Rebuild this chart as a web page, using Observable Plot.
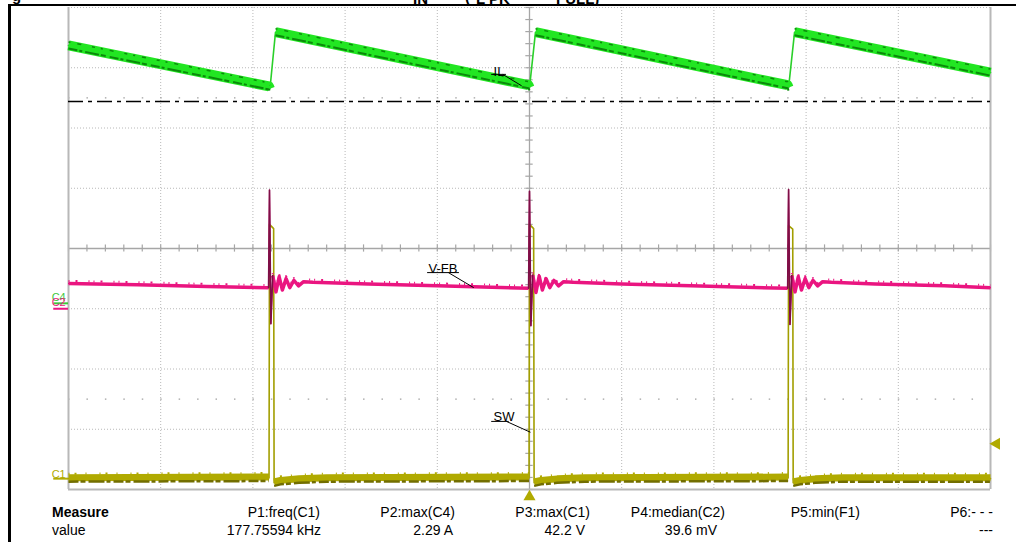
<!DOCTYPE html>
<html>
<head>
<meta charset="utf-8">
<script src="https://cdn.jsdelivr.net/npm/d3@7"></script>
<script src="https://cdn.jsdelivr.net/npm/@observablehq/plot@0.6"></script>
<style>
  html, body { margin:0; padding:0; background:#fff; }
  #wrap { position:relative; width:1016px; height:542px; overflow:hidden; font-family:"Liberation Sans", Arial, sans-serif; background:#fff; }
  #chart { position:absolute; left:0; top:0; }
  #frame { position:absolute; left:8px; top:4px; width:1030px; height:560px; border-left:3px solid #000; border-top:2.5px solid #000; box-sizing:border-box; pointer-events:none; }
  #title { position:absolute; left:0; top:0; width:1016px; height:4px; overflow:hidden; }
  #title span { position:absolute; font-weight:bold; font-size:15px; line-height:15px; white-space:pre; color:#000; }
  .m { position:absolute; font-size:14px; line-height:14px; white-space:pre; color:#000; }
</style>
</head>
<body>
<div id="wrap">
  <div id="chart"></div>
  <div id="title"></div>
  <div id="frame"></div>
  <div id="measure"></div>
</div>
<script>
// ---------------- data ----------------
const timePerDivUs = 2;            // horizontal: 2 µs/div, 10 divisions
const divisionsX = 10;
const divisionsY = 8;

// channels: C1 = SW node, C4 = inductor current, C2 = feedback voltage
const channelIds     = ["C1", "C4", "C2"];
const channelNames   = ["SW", "IL", "V-FB"];
const channelPerDiv  = [10, 0.5, 100];      // V/div, A/div, mV/div
const channelZeroDiv = [-3.82, -0.91, -1.0]; // ground marker, in divisions from centre

// SW (C1) samples: [time µs, volts]
const swSamples = [
  [0, 0], [4.35, 0.1], [4.36, 42.2], [4.45, 41.5], [4.46, -0.7], [4.6, -0.45], [5.0, -0.2], [5.6, 0],
  [9.99, 0.1], [10.0, 42.2], [10.09, 41.5], [10.10, -0.7], [10.25, -0.45], [10.6, -0.2], [11.2, 0],
  [15.61, 0.1], [15.62, 42.0], [15.71, 41.4], [15.72, -0.7], [15.87, -0.45], [16.2, -0.2], [16.8, 0],
  [20, 0]
];

// IL (C4) samples: [time µs, amps]
const ilSamples = [
  [0, 2.14], [4.35, 1.80], [4.37, 1.78], [4.49, 2.25],
  [9.98, 1.81], [10.0, 1.79], [10.13, 2.25],
  [15.60, 1.81], [15.62, 1.79], [15.75, 2.25],
  [20, 1.915]
];

// V-FB (C2) samples: [time µs, millivolts]
const fbSamples = [
  [0, 42], [1.5, 40], [3.0, 37], [4.34, 35],
  [4.36, 197], [4.39, -25], [4.43, 55], [4.50, 28], [4.57, 53], [4.64, 31], [4.72, 50], [4.80, 35], [4.89, 47], [4.99, 38], [5.1, 45], [5.3, 44],
  [6.5, 41], [8.0, 38], [9.98, 34],
  [10.0, 195], [10.03, -28], [10.07, 56], [10.14, 27], [10.21, 54], [10.28, 31], [10.36, 50], [10.44, 35], [10.53, 47], [10.63, 38], [10.74, 45], [10.95, 44],
  [12.0, 41], [13.5, 38], [15.60, 34],
  [15.62, 198], [15.65, -26], [15.69, 55], [15.76, 28], [15.83, 53], [15.90, 31], [15.98, 50], [16.06, 35], [16.15, 47], [16.25, 38], [16.36, 45], [16.55, 44],
  [17.5, 41], [19.0, 38], [20, 35]
];

const ilReferenceA  = 1.675;   // dash-dot reference level on C4
const triggerLevelV = 5.8;     // C1 trigger level
const triggerTimeUs = 10;      // trigger position

const titleFragments = ["g", "IN", "(", "L PK", "FULL)"];

const measureLabels = ["P1:freq(C1)", "P2:max(C4)", "P3:max(C1)", "P4:median(C2)", "P5:min(F1)", "P6:- - -"];
const measureValues = ["177.75594 kHz", "2.29 A", "42.2 V", "39.6 mV", "", "---"];

// ---------------- helpers / layout ----------------
const toDiv = (ch, v) => channelZeroDiv[ch] + v / channelPerDiv[ch];
const tMax = timePerDivUs * divisionsX;
const yHalf = divisionsY / 2;

const col = {
  green: "#22e622", greenDark: "#0b8a0b",
  pink: "#ea1580", pinkDark: "#7e0e46",
  olive: "#b0aa00", oliveDark: "#726e00",
  grid: "#b8b8b8", axis: "#a6a6a6"
};
const chColors = [col.olive, "#3cc83c", col.pink];

const sw = swSamples.map(([t, v]) => ({t, v, d: toDiv(0, v)}));
let ramp = 0;
const il = ilSamples.map(([t, a], i) => {
  if (i > 0 && a > ilSamples[i - 1][1] + 0.05) ramp++;
  return {t, a, d: toDiv(1, a), ramp};
});
const fbMedian = d3.median(fbSamples, d => d[1]);
const fb = fbSamples.map(([t, mv]) => ({t, mv, d: toDiv(2, mv), spike: Math.abs(mv - fbMedian) >= 30}));
fb.forEach((p, i) => { p.near = p.spike || (fb[i - 1] && fb[i - 1].spike) || (fb[i + 1] && fb[i + 1].spike); });

const gridT = d3.range(0, tMax + 1e-9, timePerDivUs);
const gridD = d3.range(-yHalf, yHalf + 1e-9, 1);
const minorT = d3.range(0, tMax + 1e-9, timePerDivUs / 5);
const minorD = d3.range(-yHalf, yHalf + 1e-9, 0.2);

const annotations = [
  {label: "IL",   tx: 9.22, ty: 2.93,  ux1: 9.18, ux2: 9.50, uy: 2.89,  lx: 9.42, ex: 9.83,  ey: 2.70},
  {label: "V-FB", tx: 7.81, ty: -0.33, ux1: 7.79, ux2: 8.48, uy: -0.40, lx: 8.24, ex: 8.79,  ey: -0.65},
  {label: "SW",   tx: 9.22, ty: -2.80, ux1: 9.18, ux2: 9.56, uy: -2.87, lx: 9.5,  ex: 10.02, ey: -3.05}
];
const chMarkers = channelIds.map((id, i) => ({id, d: channelZeroDiv[i], color: chColors[i]}));
const swBand = d => d.v < 5 ? d.d : NaN;

const plot = Plot.plot({
  width: 1016, height: 542,
  marginLeft: 68, marginRight: 26, marginTop: 7, marginBottom: 53,
  x: {domain: [0, tMax], axis: null},
  y: {domain: [-yHalf, yHalf], axis: null},
  style: {background: "#fff", fontFamily: "'Liberation Sans', Arial, sans-serif", fontSize: "13px", overflow: "visible"},
  marks: [
    // graticule
    Plot.ruleX(gridT.filter(t => t > 0 && t < tMax && t !== tMax / 2), {stroke: col.grid, strokeDasharray: "1 2"}),
    Plot.ruleY(gridD.filter(d => d > -yHalf && d !== 0), {stroke: col.grid, strokeDasharray: "1 2"}),
    Plot.ruleY([2.5, -2.5], {stroke: "#a0a0a0", strokeWidth: 1.2, strokeDasharray: "1.5 16.94"}),
    Plot.ruleX([tMax / 2], {stroke: col.axis, strokeWidth: 1.3}),
    Plot.ruleY([0], {stroke: col.axis, strokeWidth: 1.3}),
    Plot.ruleX(minorT, {y1: -0.06, y2: 0.06, stroke: col.axis, strokeWidth: 1.2}),
    Plot.ruleY(minorD, {x1: tMax / 2 - 0.08, x2: tMax / 2 + 0.08, stroke: col.axis, strokeWidth: 1.2}),
    Plot.ruleX([0, tMax], {stroke: "#b8b8b8", strokeWidth: 2}),
    Plot.ruleY([-yHalf], {stroke: "#b8b8b8", strokeWidth: 2}),
    // IL reference (dash-dot)
    Plot.ruleY([toDiv(1, ilReferenceA)], {stroke: "#000", strokeWidth: 1.5, strokeDasharray: "15 5 4 5"}),

    // IL trace (C4)
    Plot.line(il, {x: "t", y: "d", stroke: "#2ad02a", strokeWidth: 1.6}),
    Plot.line(il, {x: "t", y: "d", z: "ramp", stroke: col.green, strokeWidth: 10, strokeLinecap: "butt"}),
    Plot.line(il, {x: "t", y: "d", z: "ramp", stroke: col.greenDark, strokeWidth: 2, dy: 3, strokeLinecap: "butt", strokeDasharray: "9 2 3 3 14 2 5 4"}),
    Plot.line(il, {x: "t", y: "d", z: "ramp", stroke: col.greenDark, strokeWidth: 1.5, dy: -3.5, strokeLinecap: "butt", strokeDasharray: "2 7 4 11 3 6"}),

    // SW trace (C1)
    Plot.line(sw, {x: "t", y: "d", stroke: "#a29e00", strokeWidth: 1.6}),
    Plot.line(sw, {x: "t", y: swBand, stroke: col.olive, strokeWidth: 7, dy: -1, strokeLinecap: "butt"}),
    Plot.line(sw, {x: "t", y: swBand, stroke: col.oliveDark, strokeWidth: 2.5, dy: 3, strokeLinecap: "butt", strokeDasharray: "10 2 5 3 16 2 4 3"}),
    Plot.line(sw, {x: "t", y: swBand, stroke: col.olive, strokeWidth: 2, dy: -5, strokeLinecap: "butt", strokeDasharray: "1 5 2 9 1 13"}),

    // V-FB trace (C2)
    Plot.line(fb, {x: "t", y: "d", stroke: "#d4147a", strokeWidth: 1.2}),
    Plot.line(fb, {x: "t", y: d => d.spike ? NaN : d.d, stroke: col.pink, strokeWidth: 3.5, strokeLinecap: "butt"}),
    Plot.line(fb, {x: "t", y: d => d.spike ? NaN : d.d, stroke: col.pink, strokeWidth: 2, dy: -2.5, strokeLinecap: "butt", strokeDasharray: "1 6 2 11 1 4"}),
    Plot.line(fb, {x: "t", y: d => d.near ? d.d : NaN, stroke: col.pinkDark, strokeWidth: 1.6}),

    // channel ground markers
    Plot.ruleY(chMarkers, {y: "d", x1: -0.32, x2: 0, stroke: "color", strokeWidth: 2}),
    Plot.text(chMarkers.filter(c => c.id === "C1"), {x: -0.06, y: d => d.d + 0.07, text: "id", textAnchor: "end", fill: "color", fontSize: 11}),
    Plot.text(chMarkers.filter(c => c.id === "C4"), {x: -0.06, y: d => d.d + 0.1, text: "id", textAnchor: "end", fill: "color", fontSize: 11}),
    Plot.text(chMarkers.filter(c => c.id === "C2"), {x: -0.06, y: d => d.d + 0.11, text: "id", textAnchor: "end", fill: "color", fontSize: 11}),

    // trigger markers
    Plot.dot([{t: tMax + 0.13, d: toDiv(0, triggerLevelV)}], {x: "t", y: "d", symbol: "triangle", rotate: -90, r: 4.5, fill: col.olive, stroke: "none"}),
    Plot.dot([{t: triggerTimeUs, d: -yHalf - 0.12}], {x: "t", y: "d", symbol: "triangle", r: 4.5, fill: col.olive, stroke: "none"}),

    // trace labels
    Plot.text(annotations, {x: "tx", y: "ty", text: "label", textAnchor: "start", fill: "#000", fontSize: 13}),
    Plot.ruleY(annotations, {y: "uy", x1: "ux1", x2: "ux2", stroke: "#000", strokeWidth: 1}),
    Plot.link(annotations, {x1: "lx", y1: "uy", x2: "ex", y2: "ey", stroke: "#000", strokeWidth: 1})
  ]
});
document.getElementById("chart").appendChild(plot);

// clipped caption above the frame (only the bottom of the glyphs is visible)
const titleLeft = [12, 413, 465, 476, 556];
const titleBase = [1, 4, 1.5, 4, 4];
const title = document.getElementById("title");
titleFragments.forEach((s, i) => {
  const sp = document.createElement("span");
  sp.textContent = s;
  sp.style.left = titleLeft[i] + "px";
  sp.style.top = (titleBase[i] - 12.7) + "px";
  title.appendChild(sp);
});

// measurement table
const measure = document.getElementById("measure");
function addText(txt, opts) {
  const el = document.createElement("div");
  el.className = "m";
  el.textContent = txt;
  Object.assign(el.style, opts);
  measure.appendChild(el);
}
addText("Measure", {left: "52px", top: "505px", fontWeight: "bold"});
addText("value", {left: "52px", top: "523px"});
const labelRight = [320, 455, 590, 725, 860, 993];
const valueRight = [321, 453, 585, 717, 860, 993];
measureLabels.forEach((s, i) => addText(s, {right: (1016 - labelRight[i]) + "px", top: "505px"}));
measureValues.forEach((s, i) => { if (s) addText(s, {right: (1016 - valueRight[i]) + "px", top: "523px"}); });
</script>
</body>
</html>
